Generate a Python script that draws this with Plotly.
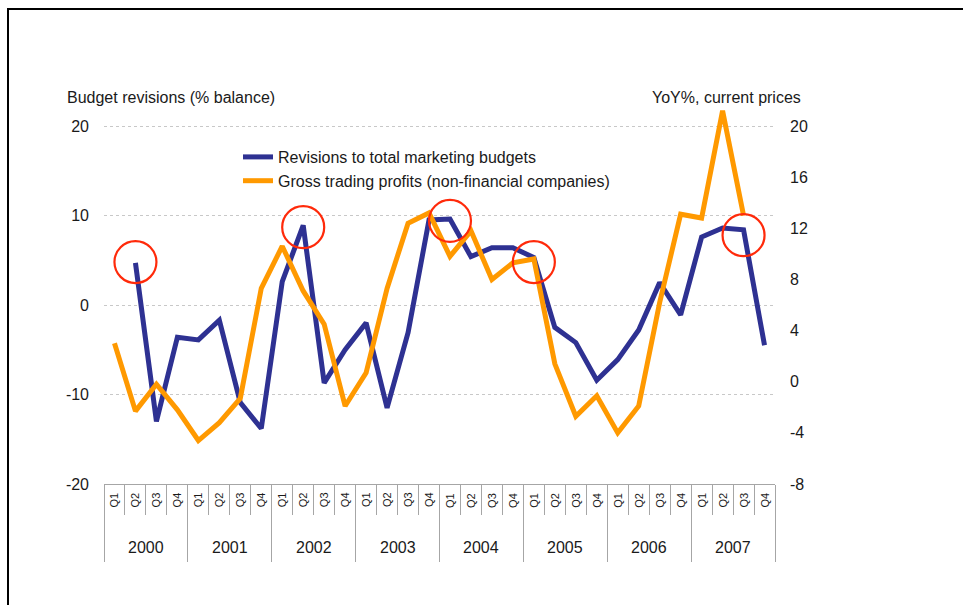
import plotly.graph_objects as go

# ---------------- data ----------------
years = ['2000', '2001', '2002', '2003', '2004', '2005', '2006', '2007']
quarters = ['Q1', 'Q2', 'Q3', 'Q4']

# Revisions to total marketing budgets (% balance, left axis)
revisions = [None, 4.7, -13.0, -3.6,
             -3.9, -1.7, -10.9, -13.8,
             2.6, 8.9, -8.7, -5.0,
             -2.0, -11.5, -3.1, 9.5,
             9.6, 5.4, 6.4, 6.4,
             5.3, -2.5, -4.2, -8.4,
             -6.1, -2.8, 2.5, -1.1,
             7.6, 8.6, 8.4, -4.5]

# Gross trading profits, non-financial companies (YoY %, right axis)
profits = [3.0, -2.3, -0.2, -2.2,
           -4.6, -3.2, -1.3, 7.3,
           10.6, 7.1, 4.5, -1.9,
           0.7, 7.3, 12.4, 13.2,
           9.8, 11.8, 8.0, 9.3,
           9.6, 1.4, -2.7, -1.1,
           -4.0, -1.9, 6.2, 13.1,
           12.8, 21.2, 13.0, None]

# highlighted turning points (red circles), left-axis units
highlight_years = ['2000', '2002', '2004', '2005', '2007']
highlight_quarters = ['Q2', 'Q2', 'Q1', 'Q1', 'Q3']
highlight_values = [4.8, 8.7, 9.4, 4.8, 7.8]

left_ticks = [-20, -10, 0, 10, 20]
left_ticktext = ['-20', '-10', '0', '10', '20']
right_ticks = [-8, -4, 0, 4, 8, 12, 16, 20]
right_ticktext = ['-8', '-4', '0', '4', '8', '12', '16', '20']

# ---------------- derived positions ----------------
n = len(years) * len(quarters)
xpos = list(range(n))
hx = [years.index(y) * 4 + quarters.index(q) for y, q in zip(highlight_years, highlight_quarters)]

FONT = 'Liberation Sans, Arial, sans-serif'
TXT = '#1a1a1a'
BLUE = '#2E3192'
ORANGE = '#FF9900'
RED = '#FF2A0A'
GRID = '#C8C8C8'
BOX = '#A6A6A6'

W, H = 963, 605
ML, MR, MT, MB = 104, 188, 100, 121
PW = W - ML - MR
PH = H - MT - MB

# axis scales (pixels per unit) so that tick 20 sits at 126 px and the bottom at 484 px
left_scale = 358 / 40.0
right_scale = 358 / 28.0
left_top = 20 + (126 - MT) / left_scale
right_top = 20 + (126 - MT) / right_scale


def pxx(p):
    return (p - ML) / PW


def pxy(p):
    return (H - MB - p) / PH


fig = go.Figure()
fig.add_trace(go.Scatter(x=xpos, y=revisions, mode='lines', name='Revisions to total marketing budgets',
                         line=dict(color=BLUE, width=5), yaxis='y', connectgaps=False))
fig.add_trace(go.Scatter(x=xpos, y=profits, mode='lines', name='Gross trading profits (non-financial companies)',
                         line=dict(color=ORANGE, width=5), yaxis='y2', connectgaps=False))
fig.add_trace(go.Scatter(x=hx, y=highlight_values, mode='markers', showlegend=False,
                         marker=dict(symbol='circle-open', size=42, color=RED, line=dict(width=2.2, color=RED)),
                         yaxis='y3'))

annotations = []
for yi, yr in enumerate(years):
    for qi, q in enumerate(quarters):
        annotations.append(dict(x=yi * 4 + qi, y=0, xref='x', yref='paper', text=q, showarrow=False,
                                textangle=-90, font=dict(size=11, color=TXT, family=FONT),
                                xanchor='center', yanchor='middle', yshift=-16))
    annotations.append(dict(x=yi * 4 + 1.5, y=0, xref='x', yref='paper', text=yr, showarrow=False,
                            font=dict(size=16, color=TXT, family=FONT),
                            xanchor='center', yanchor='middle', yshift=-63))

annotations.append(dict(x=pxx(65), y=pxy(97), xref='paper', yref='paper', text='Budget revisions (% balance)',
                        showarrow=False, xanchor='left', yanchor='middle',
                        font=dict(size=16, color=TXT, family=FONT)))
annotations.append(dict(x=pxx(803), y=pxy(97), xref='paper', yref='paper', text='YoY%, current prices',
                        showarrow=False, xanchor='right', yanchor='middle',
                        font=dict(size=16, color=TXT, family=FONT)))

shapes = [
    dict(type='line', xref='paper', yref='paper', x0=pxx(7), x1=pxx(963), y0=pxy(9), y1=pxy(9),
         line=dict(color='black', width=2)),
    dict(type='line', xref='paper', yref='paper', x0=pxx(8), x1=pxx(8), y0=pxy(9), y1=pxy(605),
         line=dict(color='black', width=2)),
]

fig.update_layout(
    width=W, height=H,
    margin=dict(l=ML, r=MR, t=MT, b=MB, autoexpand=False),
    paper_bgcolor='white', plot_bgcolor='white',
    font=dict(family=FONT, size=16, color=TXT),
    showlegend=True,
    legend=dict(x=pxx(238), y=pxy(140), xanchor='left', yanchor='top', bgcolor='rgba(0,0,0,0)',
                font=dict(size=16, family=FONT, color=TXT), tracegroupgap=0, borderwidth=0),
    xaxis=dict(range=[-0.5, n - 0.5], showticklabels=False, showgrid=False, zeroline=False,
               showline=True, linecolor=BOX, linewidth=1,
               tickmode='linear', tick0=-0.5, dtick=4, ticks='outside', ticklen=77, tickcolor=BOX, tickwidth=1,
               minor=dict(tickmode='linear', tick0=-0.5, dtick=1, ticks='outside', ticklen=30,
                          tickcolor=BOX, tickwidth=1, showgrid=False),
               fixedrange=True),
    yaxis=dict(range=[-20, left_top], tickmode='array', tickvals=left_ticks, ticktext=left_ticktext,
               showgrid=True, gridcolor=GRID, griddash='dot', gridwidth=1,
               zeroline=False, showline=False, ticks='', ticklabelstandoff=14,
               tickfont=dict(size=16, family=FONT, color=TXT)),
    yaxis2=dict(range=[-8, right_top], tickmode='array', tickvals=right_ticks, ticktext=right_ticktext,
                overlaying='y', side='right', showgrid=False,
                zeroline=False, showline=False, ticks='', ticklabelstandoff=14,
                tickfont=dict(size=16, family=FONT, color=TXT)),
    yaxis3=dict(range=[-20, left_top], overlaying='y', visible=False),
    annotations=annotations,
    shapes=shapes,
)

fig.write_html('out.html', config={'displayModeBar': False},
               post_script="document.body.style.margin='0';document.body.style.padding='0';")
